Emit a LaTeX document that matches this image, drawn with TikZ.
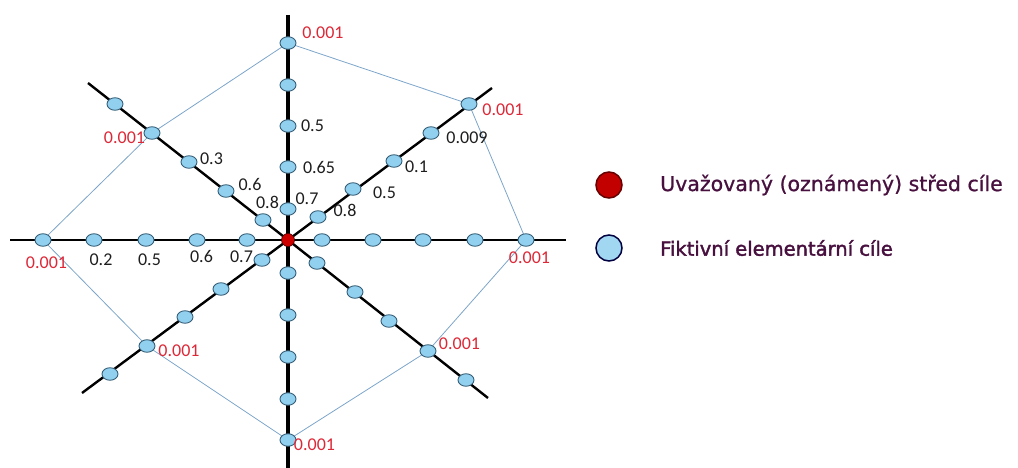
\documentclass[tikz,border=0pt]{standalone}
\usepackage{fontspec}
\setmainfont{Carlito}
\newfontfamily\legendfont[FakeBold=0.8]{DejaVu Sans}
\newfontfamily\legendboldfont[FakeBold=2]{DejaVu Sans}
\usetikzlibrary{shapes.geometric,backgrounds}

\definecolor{dotfill}{RGB}{146,208,240}
\definecolor{dotline}{RGB}{55,95,120}
\definecolor{hullline}{RGB}{125,165,202}
\definecolor{centerred}{RGB}{205,0,0}
\definecolor{valred}{RGB}{220,40,55}
\definecolor{valblack}{RGB}{30,30,30}
\definecolor{legendtext}{RGB}{72,16,62}

\tikzset{
  dot/.style={ellipse, draw=dotline, line width=0.9pt, fill=dotfill,
    minimum width=16pt, minimum height=12.5pt, inner sep=0pt},
  centerdot/.style={circle, draw=black!70!red, line width=0.6pt, fill=centerred,
    minimum size=13pt, inner sep=0pt},
  axis/.style={line width=2.4pt, black},
  mainaxis/.style={line width=3.4pt, black},
  hull/.style={line width=0.8pt, hullline},
  val/.style={font=\fontsize{18}{20}\selectfont, text=valblack, inner sep=0pt},
  edgeval/.style={font=\fontsize{18}{20}\selectfont, text=valred, inner sep=0pt},
  legendmark/.style={circle, line width=1.5pt, minimum size=26pt, inner sep=0pt},
  legendlabel/.style={anchor=west, text=legendtext, inner sep=0pt},
}

\begin{document}
\begin{tikzpicture}[x=1pt,y=-1pt]
\useasboundingbox (0,0) rectangle (1018,468);

% centre of the target
\node[centerdot] (c) at (288,240) {};

% free ends of the eight rays
\coordinate (eN)  at (288,15);
\coordinate (eS)  at (288,468);
\coordinate (eW)  at (10,240);
\coordinate (eE)  at (566,240);
\coordinate (eNW) at (88,83);
\coordinate (eNE) at (492,88);
\coordinate (eSW) at (82,393);
\coordinate (eSE) at (488,398);

% elementary targets along each ray (1 = nearest to the centre)
\node[dot] (n1) at (288,209) {};
\node[dot] (n2) at (288,167) {};
\node[dot] (n3) at (288,126) {};
\node[dot] (n4) at (288,85) {};
\node[dot] (n5) at (288,43) {};

\node[dot] (s1) at (288,273) {};
\node[dot] (s2) at (288,315) {};
\node[dot] (s3) at (288,357) {};
\node[dot] (s4) at (288,399) {};
\node[dot] (s5) at (288,440) {};

\node[dot] (w1) at (247,240) {};
\node[dot] (w2) at (197,240) {};
\node[dot] (w3) at (146,240) {};
\node[dot] (w4) at (94,240) {};
\node[dot] (w5) at (43,240) {};

\node[dot] (e1) at (322,240) {};
\node[dot] (e2) at (373,240) {};
\node[dot] (e3) at (423,240) {};
\node[dot] (e4) at (475,240) {};
\node[dot] (e5) at (526,240) {};

\node[dot] (nw1) at (263,220) {};
\node[dot] (nw2) at (226,191) {};
\node[dot] (nw3) at (189,162) {};
\node[dot] (nw4) at (152,133) {};
\node[dot] (nw5) at (115,104) {};

\node[dot] (ne1) at (318,217) {};
\node[dot] (ne2) at (353,189) {};
\node[dot] (ne3) at (394,161) {};
\node[dot] (ne4) at (431,133) {};
\node[dot] (ne5) at (469,104) {};

\node[dot] (sw1) at (262,260) {};
\node[dot] (sw2) at (221,289) {};
\node[dot] (sw3) at (185,317) {};
\node[dot] (sw4) at (147,346) {};
\node[dot] (sw5) at (110,374) {};

\node[dot] (se1) at (317,263) {};
\node[dot] (se2) at (355,292) {};
\node[dot] (se3) at (389,321) {};
\node[dot] (se4) at (428,351) {};
\node[dot] (se5) at (466,380) {};

\begin{pgfonlayer}{background}
  % outer envelope through the 0.001 targets
  \draw[hull] (n5.center) -- (ne5.center) -- (e5.center) -- (se4.center)
    -- (s5.center) -- (sw4.center) -- (w5.center) -- (nw4.center) -- cycle;
  % rays
  \draw[mainaxis] (eN) -- (eS);
  \draw[axis] (eW) -- (eE);
  \draw[axis] (c.center) -- (eNW);
  \draw[axis] (c.center) -- (eNE);
  \draw[axis] (c.center) -- (eSW);
  \draw[axis] (c.center) -- (eSE);
\end{pgfonlayer}

% probabilities along the rays
\node[val] (ln1) at (307,199) {0.7};
\node[val] (ln2) at (319,167) {0.65};
\node[val] (ln3) at (312.5,126) {0.5};

\node[val] (lnw1) at (267.5,202) {0.8};
\node[val] (lnw2) at (250,184) {0.6};
\node[val] (lnw3) at (211.5,159) {0.3};

\node[val] (lne1) at (345,210) {0.8};
\node[val] (lne2) at (384.5,193) {0.5};
\node[val] (lne3) at (416.5,167) {0.1};
\node[val] (lne4) at (467,138) {0.009};

\node[val] (lw1) at (241.5,257) {0.7};
\node[val] (lw2) at (201.5,256) {0.6};
\node[val] (lw3) at (149.5,260) {0.5};
\node[val] (lw4) at (101,260) {0.2};

% probabilities on the envelope
\node[edgeval] (vn)  at (323,33)    {0.001};
\node[edgeval] (vne) at (503,110)   {0.001};
\node[edgeval] (ve)  at (529.5,258) {0.001};
\node[edgeval] (vse) at (459.5,344) {0.001};
\node[edgeval] (vs)  at (314.5,445) {0.001};
\node[edgeval] (vsw) at (179,351)   {0.001};
\node[edgeval] (vw)  at (46.5,263)  {0.001};
\node[edgeval] (vnw) at (124.5,138) {0.001};

% legend
\node[legendmark, draw=black!60!red, fill=centerred!95!black] (keyc) at (609,185) {};
\node[legendmark, draw=black!75!blue, fill=dotfill!85!white] (keyd) at (609,248) {};
\node[legendlabel, font=\legendfont\fontsize{20.5}{24}\selectfont] (keyctext) at (660,185)
  {Uvažovaný (oznámený) střed cíle};
\node[legendlabel, font=\legendboldfont\fontsize{19.5}{24}\selectfont] (keydtext) at (660,248)
  {Fiktivní elementární cíle};
\end{tikzpicture}
\end{document}
